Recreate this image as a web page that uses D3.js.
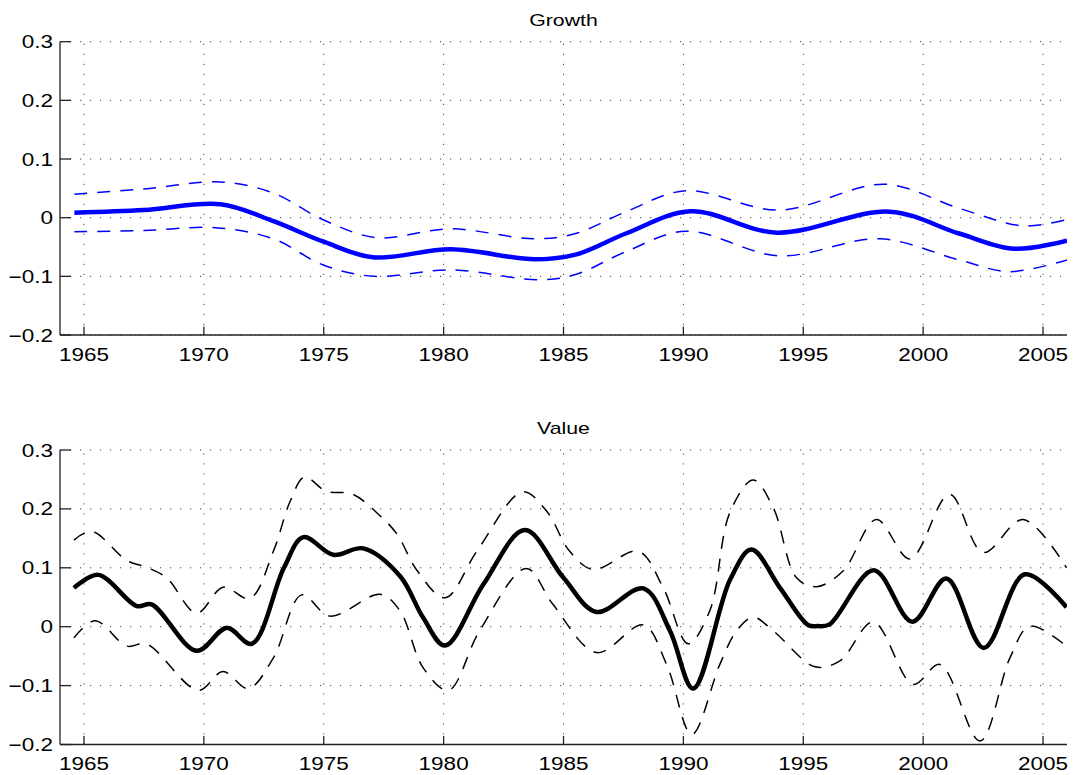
<!DOCTYPE html>
<html><head><meta charset="utf-8">
<script src="https://cdn.jsdelivr.net/npm/d3@7"></script>
<style>body{margin:0;background:#fff}svg{display:block}</style>
</head><body>
<svg id="c" width="1073" height="775"></svg>
<script>
// ---- data ----
const xTicks = [1965, 1970, 1975, 1980, 1985, 1990, 1995, 2000, 2005];
const yTicks = [-0.2, -0.1, 0, 0.1, 0.2, 0.3];
const yTickLabels = ["\u22120.2", "\u22120.1", "0", "0.1", "0.2", "0.3"];
const titles = ["Growth", "Value"];

const growthMid = [[1964.6,0.0085],[1967.5,0.013],[1970.7,0.023],[1972.9,-0.006],[1975,-0.041],[1977.05,-0.0675],[1980.3,-0.054],[1983.8,-0.071],[1985.5,-0.063],[1987.6,-0.027],[1990.3,0.011],[1993.9,-0.0255],[1998.6,0.0103],[2001.5,-0.027],[2003.8,-0.053],[2006,-0.039]];
const growthUpper = [[1964.6,0.040],[1967.5,0.049],[1970.7,0.061],[1972.9,0.042],[1975,-0.004],[1977.2,-0.034],[1980.3,-0.019],[1983.8,-0.036],[1985.5,-0.027],[1987.6,0.010],[1990.1,0.046],[1994.0,0.013],[1998.4,0.057],[2001.5,0.016],[2004.2,-0.014],[2006,-0.003]];
const growthLower = [[1964.6,-0.024],[1967.5,-0.022],[1970.5,-0.017],[1972.9,-0.036],[1975,-0.081],[1977.1,-0.100],[1980.3,-0.089],[1984,-0.106],[1985.5,-0.097],[1987.6,-0.058],[1990.1,-0.023],[1994,-0.065],[1998.2,-0.036],[2001.5,-0.072],[2003.6,-0.092],[2006,-0.072]];

const valueMid = [[1964.58,0.066],[1965.6,0.088],[1967.2,0.035],[1967.82,0.038],[1969.7,-0.041],[1970.95,-0.002],[1972.0,-0.029],[1973.34,0.1],[1974.15,0.152],[1975.4,0.122],[1976.65,0.133],[1978.18,0.086],[1979.15,0.015],[1980.06,-0.032],[1981.66,0.072],[1983.39,0.164],[1985.0,0.083],[1986.38,0.025],[1988.33,0.065],[1989.44,-0.007],[1990.41,-0.105],[1991.95,0.08],[1992.84,0.131],[1994.03,0.066],[1995.2,0.003],[1995.6,0.001],[1996.1,0.004],[1997.94,0.096],[1999.55,0.0085],[2000.97,0.082],[2002.53,-0.036],[2004.24,0.089],[2005.98,0.033]];
const valueUpper = [[1964.58,0.147],[1965.32,0.162],[1966.8,0.112],[1967.6,0.101],[1968.45,0.083],[1969.7,0.023],[1970.8,0.067],[1971.92,0.048],[1972.9,0.128],[1973.6,0.213],[1974.2,0.254],[1975.1,0.230],[1976.2,0.225],[1977.2,0.194],[1978.04,0.158],[1978.9,0.095],[1980.06,0.049],[1981.4,0.129],[1983.3,0.229],[1984.3,0.196],[1985.26,0.128],[1986.24,0.097],[1988.12,0.128],[1989.16,0.066],[1990.2,-0.029],[1991.1,0.027],[1991.94,0.194],[1992.91,0.249],[1993.75,0.202],[1994.72,0.083],[1995.56,0.068],[1996.67,0.095],[1998.05,0.182],[1999.45,0.115],[2001.1,0.225],[2002.5,0.126],[2004.17,0.182],[2005.98,0.100]];
const valueLower = [[1964.58,-0.019],[1965.46,0.010],[1966.8,-0.033],[1967.6,-0.029],[1969.77,-0.108],[1970.8,-0.076],[1971.85,-0.105],[1972.9,-0.053],[1974.08,0.054],[1975.26,0.018],[1977.35,0.055],[1978.18,0.027],[1979.15,-0.070],[1980.2,-0.108],[1981.5,-0.007],[1983.45,0.099],[1984.56,0.038],[1986.38,-0.044],[1988.33,0.003],[1989.3,-0.064],[1990.35,-0.183],[1991.52,-0.064],[1992.22,-0.007],[1992.91,0.016],[1993.75,-0.007],[1995.49,-0.068],[1996.53,-0.058],[1997.92,0.008],[1999.58,-0.098],[2000.7,-0.064],[2002.37,-0.194],[2003.62,-0.053],[2004.45,0.001],[2005.98,-0.033]];

// ---- drawing ----
const svg = d3.select("#c");
const X0 = 60, X1 = 1067;
const panels = [
  {top: 41.7, bottom: 335, title: titles[0], color: "#0000ff", mid: growthMid, up: growthUpper, lo: growthLower},
  {top: 450, bottom: 744.5, title: titles[1], color: "#000000", mid: valueMid, up: valueUpper, lo: valueLower}
];
const x = d3.scaleLinear().domain([1964, 2006]).range([X0, X1]);
const FONT = "'Liberation Sans', Arial, Helvetica, sans-serif";

panels.forEach(p => {
  const y = d3.scaleLinear().domain([-0.2, 0.3]).range([p.bottom, p.top]);
  const g = svg.append("g");
  const clipId = "clip" + p.title;
  svg.append("clipPath").attr("id", clipId).append("rect")
    .attr("x", X0).attr("y", p.top - 5).attr("width", X1 - X0).attr("height", p.bottom - p.top + 10);

  // grid
  const grid = g.append("g").attr("stroke", "#444").attr("stroke-width", 1).attr("stroke-dasharray", "1.2,8.8");
  xTicks.forEach(t => grid.append("line").attr("x1", x(t)).attr("x2", x(t)).attr("y1", p.bottom).attr("y2", p.top));
  yTicks.forEach(t => grid.append("line").attr("x1", X0).attr("x2", X1).attr("y1", y(t)).attr("y2", y(t)));

  // lines
  const line = d3.line().x(d => x(d[0])).y(d => y(d[1])).curve(d3.curveCatmullRom.alpha(0.5));
  const lg = g.append("g").attr("clip-path", `url(#${clipId})`).attr("fill", "none");
  [p.up, p.lo].forEach(s => lg.append("path").attr("d", line(s)).attr("stroke", p.color)
      .attr("stroke-width", 1.5).attr("stroke-dasharray", "13,10"));
  lg.append("path").attr("d", line(p.mid)).attr("stroke", p.color).attr("stroke-width", 4.5)
    .attr("stroke-linejoin", "round");

  // axes
  const ax = g.append("g").attr("stroke", "#222").attr("stroke-width", 1.3);
  ax.append("line").attr("x1", X0).attr("x2", X0).attr("y1", p.top).attr("y2", p.bottom);
  ax.append("line").attr("x1", X0).attr("x2", X1).attr("y1", p.bottom).attr("y2", p.bottom);
  yTicks.forEach(t => ax.append("line").attr("x1", X0).attr("x2", X0 + 11).attr("y1", y(t)).attr("y2", y(t)));
  xTicks.forEach(t => ax.append("line").attr("x1", x(t)).attr("x2", x(t)).attr("y1", p.bottom).attr("y2", p.bottom - 8.5));

  // labels
  yTicks.forEach((t, i) => g.append("text")
    .attr("transform", `translate(${X0 - 7},${y(t) + 6.5}) scale(1.25,1)`)
    .attr("text-anchor", "end").attr("font-family", FONT).attr("font-size", 18).attr("fill", "#000")
    .text(yTickLabels[i]));
  xTicks.forEach(t => g.append("text")
    .attr("transform", `translate(${x(t)},${p.bottom + 25.5}) scale(1.25,1)`)
    .attr("text-anchor", "middle").attr("font-family", FONT).attr("font-size", 18).attr("fill", "#000")
    .text(String(t)));
  g.append("text")
    .attr("transform", `translate(${(X0 + X1) / 2},${p.top - 16}) scale(1.25,1)`)
    .attr("text-anchor", "middle").attr("font-family", FONT).attr("font-size", 17).attr("fill", "#000")
    .text(p.title);
});
</script>
</body></html>
